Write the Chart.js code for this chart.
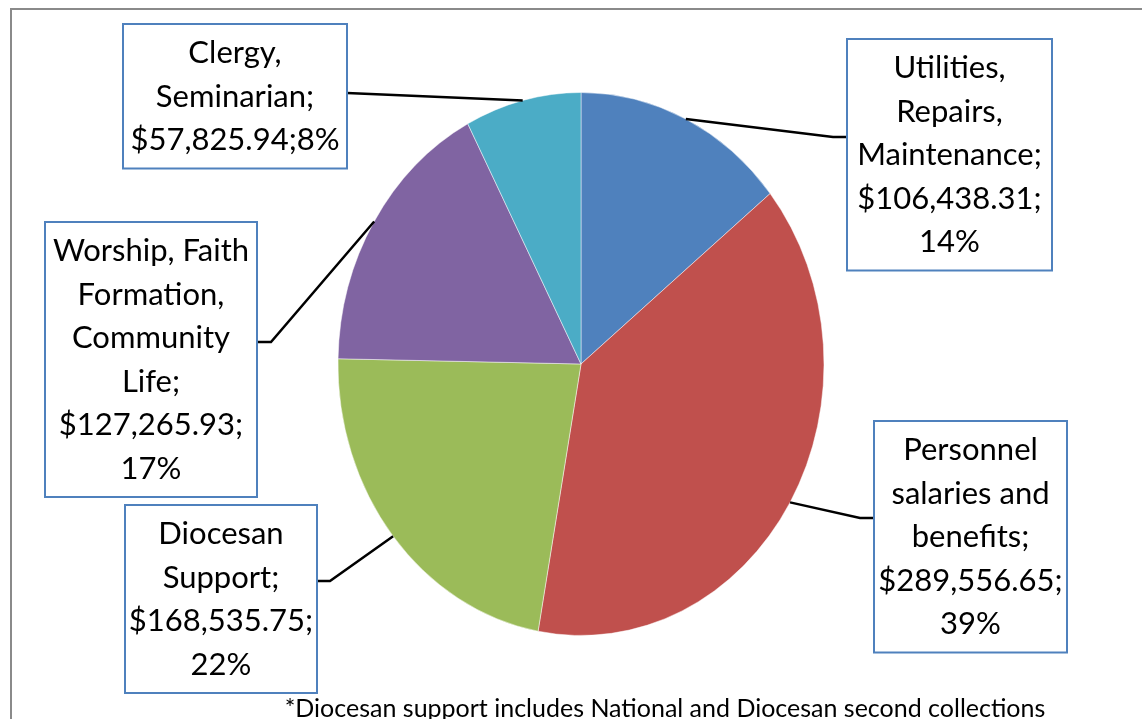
<!DOCTYPE html>
<html>
<head>
<meta charset="utf-8">
<script src="https://cdn.jsdelivr.net/npm/chart.js@4"></script>
<style>
  html, body { margin: 0; padding: 0; background: #fff; }
  canvas { display: block; }
</style>
</head>
<body>
<canvas id="expenses" width="1142" height="719"></canvas>
<script>
const categories = [
  'Utilities,\nRepairs,\nMaintenance',
  'Personnel\nsalaries and\nbenefits',
  'Diocesan\nSupport',
  'Worship, Faith\nFormation,\nCommunity\nLife',
  'Clergy,\nSeminarian'
];
const amounts = [106438.31, 289556.65, 168535.75, 127265.93, 57825.94];
const sliceColors = ['#4f81bd', '#c0504d', '#9bbb59', '#8064a2', '#4bacc6'];
const footnote = '*Diocesan support includes National and Diocesan second collections';

// callout boxes: top-left, width, where the leader meets the box, and the leader's elbow
const calloutBoxes = [
  { x: 847, y: 39, w: 205, ax: 847, ay: 137, ex: 833, ey: 137 },
  { x: 874, y: 421, w: 193, ax: 874, ay: 518, ex: 860, ey: 518 },
  { x: 125, y: 505, w: 192, ax: 317, ay: 581, ex: 330, ey: 581 },
  { x: 45, y: 222, w: 212, ax: 257, ay: 342, ex: 271, ey: 342 },
  { x: 123, y: 24, w: 224, ax: 347, ay: 93, ex: 347, ey: 93 }
];

const pieRx = 243;          // the original pie is squashed horizontally
const labelFont = '31px Lato';
const lineStep = 43.5;

const total = amounts.reduce((a, b) => a + b, 0);
const money = v => '$' + v.toLocaleString('en-US', { minimumFractionDigits: 2, maximumFractionDigits: 2 });
const pct = v => Math.round(v / total * 100) + '%';

const ellipsePie = {
  id: 'ellipsePie',
  beforeDatasetsDraw(chart) {
    const arc = chart.getDatasetMeta(0).data[0];
    const ctx = chart.ctx;
    ctx.save();
    ctx.translate(arc.x, arc.y);
    ctx.scale(pieRx / arc.outerRadius, 1);
    ctx.translate(-arc.x, -arc.y);
  },
  afterDatasetsDraw(chart) {
    chart.ctx.restore();
  }
};

const callouts = {
  id: 'callouts',
  afterDraw(chart) {
    const ctx = chart.ctx;
    const arcs = chart.getDatasetMeta(0).data;

    // outer chart frame
    ctx.save();
    ctx.strokeStyle = '#8a8a8a';
    ctx.lineWidth = 2;
    ctx.beginPath();
    ctx.moveTo(1142, 9);
    ctx.lineTo(11, 9);
    ctx.lineTo(11, 719);
    ctx.stroke();

    ctx.font = labelFont;
    arcs.forEach((arc, i) => {
      const b = calloutBoxes[i];
      const mid = (arc.startAngle + arc.endAngle) / 2;
      const px = arc.x + pieRx * Math.cos(mid);
      const py = arc.y + arc.outerRadius * Math.sin(mid);

      // leader line
      ctx.strokeStyle = '#000';
      ctx.lineWidth = 2.5;
      ctx.beginPath();
      ctx.moveTo(px, py);
      ctx.lineTo(b.ex, b.ey);
      ctx.lineTo(b.ax, b.ay);
      ctx.stroke();

      // label text lines
      const lines = categories[i].split('\n');
      lines[lines.length - 1] += ';';
      const v = money(amounts[i]) + ';';
      const joined = v + pct(amounts[i]);
      if (ctx.measureText(joined).width <= b.w - 8) {
        lines.push(joined);
      } else {
        lines.push(v, pct(amounts[i]));
      }
      const h = lines.length * lineStep + 14;

      ctx.fillStyle = '#fff';
      ctx.fillRect(b.x, b.y, b.w, h);
      ctx.strokeStyle = '#4f81bd';
      ctx.lineWidth = 2;
      ctx.strokeRect(b.x, b.y, b.w, h);

      ctx.fillStyle = '#000';
      ctx.textAlign = 'center';
      ctx.textBaseline = 'middle';
      lines.forEach((t, k) => {
        ctx.fillText(t, b.x + b.w / 2, b.y + 29 + k * lineStep);
      });
    });

    ctx.font = '25px Lato';
    ctx.textAlign = 'center';
    ctx.textBaseline = 'alphabetic';
    ctx.fillStyle = '#000';
    ctx.fillText(footnote, 665, 717);
    ctx.restore();
  }
};

new Chart(document.getElementById('expenses'), {
  type: 'pie',
  data: {
    labels: categories.map(c => c.replace(/\n/g, ' ')),
    datasets: [{
      data: amounts,
      backgroundColor: sliceColors,
      borderColor: 'rgba(255,255,255,0.5)',
      borderWidth: 1,
      clip: false
    }]
  },
  options: {
    responsive: false,
    animation: false,
    events: [],
    layout: { padding: { left: 309, top: 92, right: 289, bottom: 83 } },
    plugins: {
      legend: { display: false },
      tooltip: { enabled: false }
    }
  },
  plugins: [ellipsePie, callouts]
});
</script>
</body>
</html>
